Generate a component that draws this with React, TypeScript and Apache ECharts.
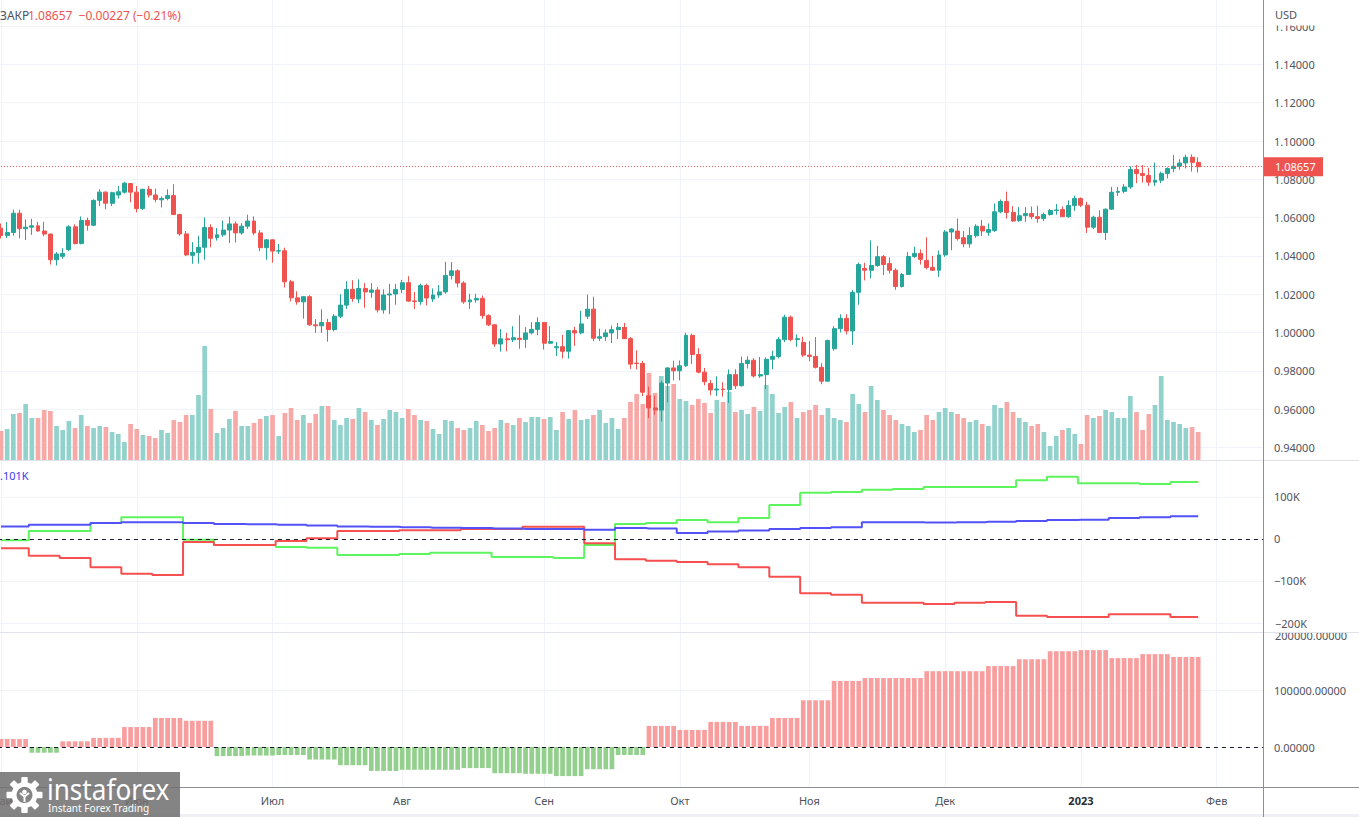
import React, { useEffect, useRef } from 'react';
import * as echarts from 'echarts';

const W = 1359;
const H = 817;
const FONT = "'Noto Sans', 'DejaVu Sans', sans-serif";
const UP = '#26a69a';
const DOWN = '#ef5350';
const VOL_UP = '#92d2cc';
const VOL_DOWN = '#f7a9a7';
const GRID_C = '#f0f3fa';
const LABEL_C = '#50535e';

// Daily EUR/USD candles [open, high, low, close]
const candlesMay = [
  [1.0545, 1.0569, 1.0491, 1.0506], [1.0506, 1.0577, 1.0493, 1.0522], [1.0522, 1.0642, 1.0505, 1.0623],
  [1.0623, 1.0641, 1.0492, 1.0542], [1.0542, 1.0591, 1.0483, 1.0550], [1.0550, 1.0594, 1.0510, 1.0557],
  [1.0557, 1.0578, 1.0527, 1.0530], [1.0530, 1.0578, 1.0503, 1.0514], [1.0514, 1.0516, 1.0355, 1.0380],
  [1.0380, 1.0420, 1.0350, 1.0410], [1.0398, 1.0440, 1.0385, 1.0412], [1.0433, 1.0560, 1.0425, 1.0552],
  [1.0552, 1.0565, 1.0460, 1.0465], [1.0465, 1.0606, 1.0460, 1.0585], [1.0585, 1.0600, 1.0532, 1.0560],
  [1.0560, 1.0695, 1.0555, 1.0690], [1.0690, 1.0748, 1.0660, 1.0733], [1.0733, 1.0737, 1.0643, 1.0675],
  [1.0675, 1.0735, 1.0660, 1.0730], [1.0718, 1.0765, 1.0700, 1.0735], [1.0733, 1.0787, 1.0725, 1.0780],
  [1.0778, 1.0780, 1.0680, 1.0733],
];
const candlesJun = [
  [1.0733, 1.0765, 1.0627, 1.0647], [1.0647, 1.0750, 1.0640, 1.0748], [1.0748, 1.0765, 1.0705, 1.0718],
  [1.0718, 1.0752, 1.0680, 1.0695], [1.0693, 1.0710, 1.0653, 1.0700], [1.0700, 1.0748, 1.0690, 1.0715],
  [1.0715, 1.0774, 1.0615, 1.0616], [1.0616, 1.0620, 1.0505, 1.0515], [1.0515, 1.0530, 1.0400, 1.0405],
  [1.0403, 1.0472, 1.0359, 1.0418], [1.0418, 1.0505, 1.0360, 1.0445], [1.0445, 1.0601, 1.0380, 1.0548],
  [1.0548, 1.0565, 1.0445, 1.0492], [1.0495, 1.0545, 1.0480, 1.0510], [1.0510, 1.0584, 1.0500, 1.0535],
  [1.0535, 1.0605, 1.0468, 1.0567], [1.0567, 1.0579, 1.0470, 1.0520], [1.0520, 1.0570, 1.0510, 1.0555],
  [1.0555, 1.0615, 1.0540, 1.0582], [1.0582, 1.0606, 1.0508, 1.0520], [1.0520, 1.0535, 1.0425, 1.0443],
  [1.0443, 1.0488, 1.0380, 1.0484],
];
const candlesJul = [
  [1.0484, 1.0486, 1.0365, 1.0425], [1.0425, 1.0462, 1.0410, 1.0427], [1.0427, 1.0443, 1.0235, 1.0265],
  [1.0265, 1.0275, 1.0162, 1.0181], [1.0181, 1.0215, 1.0145, 1.0160], [1.0160, 1.0186, 1.0072, 1.0187],
  [1.0187, 1.0195, 1.0035, 1.0040], [1.0040, 1.0070, 0.9998, 1.0035], [1.0035, 1.0121, 0.9998, 1.0052],
  [1.0052, 1.0071, 0.9952, 1.0015], [1.0015, 1.0097, 1.0006, 1.0085], [1.0085, 1.0200, 1.0075, 1.0143],
  [1.0143, 1.0268, 1.0123, 1.0225], [1.0225, 1.0273, 1.0160, 1.0178], [1.0175, 1.0278, 1.0153, 1.0230],
  [1.0230, 1.0258, 1.0129, 1.0212], [1.0210, 1.0258, 1.0181, 1.0222], [1.0222, 1.0237, 1.0105, 1.0118],
  [1.0118, 1.0225, 1.0098, 1.0196], [1.0196, 1.0254, 1.0096, 1.0201], [1.0201, 1.0254, 1.0145, 1.0225],
];
const candlesAug = [
  [1.0225, 1.0275, 1.0205, 1.0260], [1.0260, 1.0294, 1.0160, 1.0164], [1.0165, 1.0212, 1.0123, 1.0162],
  [1.0162, 1.0255, 1.0145, 1.0245], [1.0245, 1.0255, 1.0141, 1.0180], [1.0175, 1.0230, 1.0160, 1.0196],
  [1.0196, 1.0248, 1.0181, 1.0212], [1.0212, 1.0368, 1.0202, 1.0298], [1.0298, 1.0368, 1.0277, 1.0322],
  [1.0322, 1.0330, 1.0235, 1.0258], [1.0258, 1.0268, 1.0150, 1.0160], [1.0160, 1.0202, 1.0123, 1.0170],
  [1.0170, 1.0202, 1.0156, 1.0178], [1.0178, 1.0193, 1.0072, 1.0088], [1.0088, 1.0095, 1.0033, 1.0040],
  [1.0040, 1.0045, 0.9925, 0.9940], [0.9940, 1.0018, 0.9900, 0.9967], [0.9967, 0.9998, 0.9902, 0.9962],
  [0.9962, 1.0033, 0.9950, 0.9973], [0.9970, 1.0090, 0.9915, 0.9964], [0.9964, 1.0028, 0.9920, 0.9998],
  [0.9998, 1.0054, 0.9990, 1.0016], [1.0016, 1.0079, 0.9985, 1.0052],
];
const candlesSep = [
  [1.0052, 1.0055, 0.9911, 0.9944], [0.9944, 1.0033, 0.9940, 0.9953], [0.9920, 0.9950, 0.9877, 0.9926],
  [0.9926, 0.9988, 0.9865, 0.9902], [0.9902, 1.0012, 0.9864, 1.0010], [1.0010, 1.0030, 0.9930, 0.9998],
  [0.9998, 1.0113, 0.9990, 1.0045], [1.0085, 1.0198, 1.0070, 1.0122], [1.0122, 1.0187, 0.9955, 0.9970],
  [0.9970, 1.0020, 0.9955, 0.9978], [0.9978, 1.0017, 0.9955, 0.9998], [0.9998, 1.0036, 0.9945, 1.0015],
  [1.0015, 1.0050, 0.9966, 1.0027], [1.0027, 1.0050, 0.9966, 0.9968], [0.9968, 0.9976, 0.9810, 0.9835],
  [0.9840, 0.9907, 0.9807, 0.9838], [0.9838, 0.9851, 0.9668, 0.9688], [0.9670, 0.9718, 0.9553, 0.9606],
  [0.9606, 0.9670, 0.9570, 0.9595], [0.9595, 0.9748, 0.9535, 0.9736], [0.9736, 0.9818, 0.9635, 0.9815],
  [0.9815, 0.9853, 0.9750, 0.9800],
];
const candlesOct = [
  [0.9800, 0.9854, 0.9750, 0.9826], [0.9826, 0.9999, 0.9820, 0.9985], [0.9985, 0.9994, 0.9836, 0.9885],
  [0.9885, 0.9918, 0.9787, 0.9793], [0.9793, 0.9815, 0.9724, 0.9743], [0.9734, 0.9752, 0.9672, 0.9700],
  [0.9700, 0.9771, 0.9668, 0.9705], [0.9705, 0.9740, 0.9665, 0.9702], [0.9702, 0.9807, 0.9632, 0.9780],
  [0.9780, 0.9808, 0.9705, 0.9722], [0.9722, 0.9875, 0.9718, 0.9838], [0.9838, 0.9876, 0.9812, 0.9855],
  [0.9855, 0.9866, 0.9765, 0.9773], [0.9773, 0.9872, 0.9763, 0.9780], [0.9780, 0.9870, 0.9705, 0.9860],
  [0.9860, 0.9905, 0.9808, 0.9875], [0.9875, 0.9976, 0.9865, 0.9963], [0.9963, 1.0093, 0.9950, 1.0080],
  [1.0080, 1.0088, 0.9954, 0.9963], [0.9963, 0.9990, 0.9925, 0.9968], [0.9948, 0.9978, 0.9872, 0.9882],
];
const candlesNov = [
  [0.9882, 0.9955, 0.9850, 0.9875], [0.9875, 0.9976, 0.9812, 0.9818], [0.9818, 0.9840, 0.9730, 0.9746],
  [0.9746, 0.9963, 0.9746, 0.9958], [0.9915, 1.0033, 0.9905, 1.0020], [1.0020, 1.0095, 1.0000, 1.0074],
  [1.0074, 1.0095, 0.9990, 1.0008], [1.0008, 1.0222, 0.9935, 1.0210], [1.0210, 1.0365, 1.0145, 1.0355],
  [1.0334, 1.0364, 1.0272, 1.0325], [1.0325, 1.0481, 1.0282, 1.0350], [1.0350, 1.0452, 1.0343, 1.0396],
  [1.0396, 1.0405, 1.0300, 1.0355], [1.0360, 1.0392, 1.0308, 1.0325], [1.0325, 1.0335, 1.0223, 1.0240],
  [1.0240, 1.0310, 1.0235, 1.0303], [1.0303, 1.0420, 1.0300, 1.0397], [1.0397, 1.0448, 1.0390, 1.0413],
  [1.0413, 1.0434, 1.0355, 1.0382], [1.0376, 1.0497, 1.0330, 1.0340], [1.0340, 1.0400, 1.0323, 1.0325],
  [1.0325, 1.0428, 1.0290, 1.0405],
];
const candlesDec = [
  [1.0405, 1.0535, 1.0395, 1.0525], [1.0525, 1.0545, 1.0430, 1.0540], [1.0530, 1.0595, 1.0480, 1.0490],
  [1.0495, 1.0530, 1.0445, 1.0463], [1.0463, 1.0550, 1.0443, 1.0507], [1.0505, 1.0565, 1.0495, 1.0555],
  [1.0555, 1.0588, 1.0503, 1.0530], [1.0523, 1.0570, 1.0504, 1.0538], [1.0533, 1.0673, 1.0525, 1.0630],
  [1.0630, 1.0695, 1.0623, 1.0684], [1.0684, 1.0736, 1.0595, 1.0627], [1.0627, 1.0660, 1.0578, 1.0582],
  [1.0585, 1.0655, 1.0578, 1.0610], [1.0610, 1.0655, 1.0578, 1.0621], [1.0621, 1.0658, 1.0592, 1.0605],
  [1.0605, 1.0662, 1.0573, 1.0595], [1.0595, 1.0626, 1.0582, 1.0616], [1.0616, 1.0645, 1.0610, 1.0637],
  [1.0637, 1.0671, 1.0615, 1.0640], [1.0642, 1.0658, 1.0605, 1.0605], [1.0605, 1.0690, 1.0598, 1.0663],
  [1.0663, 1.0715, 1.0635, 1.0700],
];
const candlesJan = [
  [1.0700, 1.0705, 1.0655, 1.0665], [1.0665, 1.0683, 1.0520, 1.0550], [1.0550, 1.0610, 1.0540, 1.0602],
  [1.0602, 1.0638, 1.0520, 1.0522], [1.0522, 1.0647, 1.0483, 1.0644], [1.0644, 1.0760, 1.0640, 1.0732],
  [1.0732, 1.0760, 1.0713, 1.0737], [1.0737, 1.0775, 1.0727, 1.0760], [1.0760, 1.0868, 1.0750, 1.0851],
  [1.0851, 1.0875, 1.0780, 1.0830], [1.0830, 1.0875, 1.0783, 1.0820], [1.0820, 1.0860, 1.0766, 1.0785],
  [1.0785, 1.0887, 1.0766, 1.0795], [1.0795, 1.0840, 1.0780, 1.0830], [1.0830, 1.0863, 1.0805, 1.0856],
  [1.0856, 1.0927, 1.0837, 1.0868], [1.0868, 1.0905, 1.0850, 1.0885], [1.0885, 1.0928, 1.0857, 1.0915],
  [1.0915, 1.0930, 1.0840, 1.08884], [1.08884, 1.0915, 1.0835, 1.08657],
];
const candles = [
  ...candlesMay, ...candlesJun, ...candlesJul, ...candlesAug, ...candlesSep,
  ...candlesOct, ...candlesNov, ...candlesDec, ...candlesJan,
];

// Daily tick volume (thousands)
const volumes = [
  29, 31, 46, 47, 56, 42, 42, 50, 49, 34, 30, 39, 32, 45, 34, 32, 34, 33, 28, 26,
  18, 36, 31, 25, 24, 22, 30, 27, 40, 38, 45, 45, 65, 114, 51, 27, 32, 41, 49, 34,
  34, 37, 41, 44, 45, 24, 47, 52, 40, 45, 37, 46, 54, 54, 40, 35, 42, 41, 52, 48,
  40, 35, 41, 50, 48, 42, 51, 45, 40, 39, 31, 26, 40, 39, 32, 30, 32, 39, 35, 29,
  32, 40, 37, 35, 42, 38, 43, 43, 41, 43, 30, 48, 41, 50, 40, 41, 45, 50,
  37, 42, 31, 42, 58, 66, 56, 87, 67, 84, 74, 76, 61, 59, 55, 61, 57, 47, 60, 58,
  68, 48, 50, 46, 53, 49, 75, 66, 47, 53, 58, 42, 48, 50, 55, 45, 52, 42, 40, 38,
  66, 56, 48, 74, 60, 50, 45, 40, 36, 34, 28, 30, 45, 40, 48, 52, 48, 46, 42, 38,
  40, 36, 34, 55, 52, 58, 48, 42, 38, 34, 36, 28, 14, 24, 30, 32, 26, 16, 45, 42,
  44, 50, 48, 42, 42, 64, 48, 30, 46, 55, 84, 40, 38, 36, 32, 33, 28,
];

// Weekly COT positions (thousands of contracts), one value per week from 2 May 2022
const cotBlue = [30, 34, 34, 38, 40, 40, 38, 36, 35, 34, 32, 30, 29, 28, 27, 26, 25, 24, 24, 22,
  26, 25, 14, 18, 20, 24, 26, 28, 40, 40, 39, 40, 41, 43, 45, 46, 50, 52, 54];
const cotGreen = [-3, 19, 19, 38, 52, 52, -2, -14, -14, -19, -21, -38, -38, -36, -33, -33, -43, -43, -45, -14,
  36, 38, 45, 40, 50, 81, 110, 112, 117, 119, 124, 124, 124, 140, 148, 133, 133, 131, 136];
const cotRed = [-22, -40, -45, -67, -83, -86, -7, -14, -14, -5, 2, 19, 19, 21, 21, 24, 24, 29, 29, -10,
  -48, -52, -55, -60, -67, -90, -129, -133, -152, -152, -155, -152, -150, -183, -186, -186, -179, -179, -186];
const netHist = [14, -10, 10, 16, 35, 51, 46, -16, -15, -14, -22, -32, -42, -40, -40, -37, -46, -47, -51, -39,
  -14, 37, 30, 44, 37, 51, 82, 116, 121, 121, 133, 133, 142, 154, 168, 170, 156, 163, 158];

const priceTicks = [0.94, 0.96, 0.98, 1.0, 1.02, 1.04, 1.06, 1.08, 1.1, 1.12, 1.14, 1.16];
const cotLabelTicks = [-100000, 0, 100000];
const cotLineTicks = [-200000, -100000, 100000];
const histLabelTicks = [0, 100000];
const histLineTicks = [100000];
const monthNames = ['Янв', 'Фев', 'Мар', 'Апр', 'Май', 'Июн', 'Июл', 'Авг', 'Сен', 'Окт', 'Ноя', 'Дек'];

const FUTURE_DAYS = 10;

function weekdays(startISO: string, count: number): string[] {
  const out: string[] = [];
  const d = new Date(startISO + 'T00:00:00Z');
  while (out.length < count) {
    const wd = d.getUTCDay();
    if (wd !== 0 && wd !== 6) out.push(d.toISOString().slice(0, 10));
    d.setUTCDate(d.getUTCDate() + 1);
  }
  return out;
}

const dates = weekdays('2022-05-02', candles.length + FUTURE_DAYS);
const monthStart = dates.map((d, i) => i === 0 || d.slice(5, 7) !== dates[i - 1].slice(5, 7));

const lastClose = candles[candles.length - 1][3];
const prevClose = candles[candles.length - 2][3];

// layout of the panes
const RIGHT_AXIS_X = 1263;
const BAND = 6.171;
const GRID_LEFT = 1 - BAND / 2;
const GRID_RIGHT = W - RIGHT_AXIS_X;
const P_MAX = 1 + 332.5 / 1915;
const P_MIN = 1 - 127.5 / 1915;

function weeklyToDaily(w: number[]) {
  return candles.map((_, i) => w[Math.floor(i / 5)] * 1000);
}

function buildOption(): any {
  const xAxes = [0, 1, 2].map((g) => ({
    type: 'category',
    gridIndex: g,
    data: dates,
    boundaryGap: true,
    axisLine: { show: false },
    axisTick: { show: false },
    axisLabel: g === 2
      ? {
          show: true,
          interval: (i: number) => monthStart[i],
          margin: 9,
          color: LABEL_C,
          fontSize: 11,
          fontFamily: FONT,
          formatter: (v: string) => {
            const m = +v.slice(5, 7);
            return m === 1 ? '{y|' + v.slice(0, 4) + '}' : monthNames[m - 1];
          },
          rich: { y: { fontWeight: 'bold', color: '#2a2e39', fontSize: 11, fontFamily: FONT } },
        }
      : { show: false },
    splitLine: {
      show: true,
      interval: (i: number) => monthStart[i],
      alignWithLabel: true,
      lineStyle: { color: GRID_C, width: 1 },
    },
  }));

  const labelStyle = { color: LABEL_C, fontSize: 11, fontFamily: FONT, margin: 11 };

  const volData = candles.map((c, i) => ({
    value: volumes[i],
    itemStyle: { color: c[3] >= c[0] ? VOL_UP : VOL_DOWN },
  }));
  const histDaily = weeklyToDaily(netHist);
  const histData = histDaily.map((v) => ({
    value: v,
    itemStyle: { color: v >= 0 ? '#f89e9e' : '#93cf8d' },
  }));

  const zeroLine = (id: string) => ({
    silent: true,
    symbol: ['none', 'none'],
    precision: 5,
    label: { show: false },
    lineStyle: { color: '#131722', type: [4, 4], width: 1 },
    data: [{ yAxis: 0, name: id }],
  });

  return {
    animation: false,
    backgroundColor: '#ffffff',
    textStyle: { fontFamily: FONT },
    grid: [
      { left: GRID_LEFT, right: GRID_RIGHT, top: 0, height: 460, outerBoundsMode: 'none' },
      { left: GRID_LEFT, right: GRID_RIGHT, top: 461, height: 171, outerBoundsMode: 'none' },
      { left: GRID_LEFT, right: GRID_RIGHT, top: 633, height: 153, outerBoundsMode: 'none' },
    ],
    xAxis: xAxes,
    yAxis: [
      {
        type: 'value', gridIndex: 0, position: 'right', min: P_MIN, max: P_MAX,
        axisLine: { show: false },
        axisTick: { show: false, customValues: priceTicks },
        axisLabel: { ...labelStyle, customValues: priceTicks, formatter: (v: number) => v.toFixed(5) },
        splitLine: { show: true, lineStyle: { color: GRID_C } },
      },
      { type: 'value', gridIndex: 0, min: 0, max: 460, show: false, splitLine: { show: false } },
      {
        type: 'value', gridIndex: 1, position: 'right', min: -221429, max: 185714,
        axisLine: { show: false },
        axisTick: { show: false, customValues: cotLineTicks },
        axisLabel: {
          ...labelStyle, customValues: cotLabelTicks,
          formatter: (v: number) => (v === 0 ? '0' : (v < 0 ? '\u2212' : '') + Math.abs(v / 1000) + 'K'),
        },
        splitLine: { show: true, lineStyle: { color: GRID_C } },
      },
      {
        type: 'value', gridIndex: 2, position: 'right', min: -68421, max: 200000,
        axisLine: { show: false },
        axisTick: { show: false, customValues: histLineTicks },
        axisLabel: { ...labelStyle, customValues: histLabelTicks, formatter: (v: number) => v.toFixed(5) },
        splitLine: { show: true, lineStyle: { color: GRID_C } },
      },
    ],
    series: [
      {
        type: 'bar', name: 'volume', xAxisIndex: 0, yAxisIndex: 1, data: volData,
        barWidth: '76%', silent: true, z: 1,
      },
      {
        type: 'candlestick', name: 'EURUSD', xAxisIndex: 0, yAxisIndex: 0,
        data: candles.map((c) => [c[0], c[3], c[2], c[1]]),
        barWidth: '72%', silent: true, z: 3,
        itemStyle: { color: UP, color0: DOWN, borderColor: UP, borderColor0: DOWN, borderWidth: 1 },
        markLine: {
          silent: true, symbol: ['none', 'none'], label: { show: false }, precision: 5,
          lineStyle: { color: DOWN, type: [1, 2], width: 1 },
          data: [{ yAxis: lastClose }],
        },
      },
      {
        type: 'line', name: 'green', xAxisIndex: 1, yAxisIndex: 2, data: weeklyToDaily(cotGreen),
        step: 'middle', showSymbol: false, silent: true, z: 3,
        lineStyle: { color: '#5df55d', width: 2 },
      },
      {
        type: 'line', name: 'red', xAxisIndex: 1, yAxisIndex: 2, data: weeklyToDaily(cotRed),
        step: 'middle', showSymbol: false, silent: true, z: 3,
        lineStyle: { color: '#f5504f', width: 2 },
      },
      {
        type: 'line', name: 'blue', xAxisIndex: 1, yAxisIndex: 2, data: weeklyToDaily(cotBlue),
        step: 'middle', showSymbol: false, silent: true, z: 3,
        lineStyle: { color: '#5252f7', width: 2 },
        markLine: zeroLine('cot0'),
      },
      {
        type: 'bar', name: 'net', xAxisIndex: 2, yAxisIndex: 3, data: histData,
        barWidth: '76%', silent: true, z: 2,
        markLine: zeroLine('net0'),
      },
    ],
  };
}

function buildGraphics(yLast: number): any[] {
  const change = lastClose - prevClose;
  const sign = change < 0 ? '\u2212' : '+';
  const pct = (Math.abs(change) / prevClose) * 100;
  const legendText = `${lastClose.toFixed(5)}  ${sign}${Math.abs(change).toFixed(5)} (${sign}${pct.toFixed(2)}%)`;
  const txt = (text: string, x: number, y: number, fill: string, fontSize = 11, z = 101) => ({
    type: 'text', x, y, z, silent: true,
    style: { text, fill, fontSize, fontFamily: FONT, verticalAlign: 'middle', align: 'left' },
  });
  const box = (x: number, y: number, width: number, height: number, fill: string, z: number) => ({
    type: 'rect', z, silent: true, shape: { x, y, width, height }, style: { fill },
  });
  const line = (x1: number, y1: number, x2: number, y2: number, stroke: string) => ({
    type: 'line', z: 110, silent: true, shape: { x1, y1, x2, y2 }, style: { stroke, lineWidth: 1 },
  });
  const teeth = [0, 1, 2, 3, 4, 5, 6, 7].map((k) => ({
    type: 'rect', z: 201, rotation: (k * Math.PI) / 4, shape: { x: -3.2, y: -18, width: 6.4, height: 7, r: 1 },
    style: { fill: '#ffffff' },
  }));
  return [
    // price pane legend
    txt('ЗАКР', 0, 15, '#50535e', 12),
    txt(legendText, 28, 15, DOWN, 12),
    txt('.101K', 0, 475, '#3a3af0', 11),
    // top of price scale, partly covering the highest label
    box(1264, 0, 95, 25.5, '#ffffff', 102),
    txt('USD', 1275, 14, LABEL_C, 11, 103),
    // last price badge
    box(1264, yLast - 9.5, 59, 19, DOWN, 102),
    txt(lastClose.toFixed(5), 1275, yLast, '#ffffff', 11, 103),
    // clipped top label of lowest pane
    txt('200000.00000', 1275, 635, LABEL_C, 11, 100),
    box(1264, 616, 95, 17, '#ffffff', 102),
    txt('\u2212200K', 1275, 623, LABEL_C, 11, 103),
    // separators
    line(0, 460.5, W, 460.5, '#e0e3eb'),
    line(0, 632.5, W, 632.5, '#e0e3eb'),
    line(0, 787.5, W, 787.5, '#8c8f98'),
    line(RIGHT_AXIS_X + 0.5, 0, RIGHT_AXIS_X + 0.5, H, '#8c8f98'),
    box(0, 814, W, 3, '#eef0f4', 105),
    // watermark
    {
      type: 'group', silent: true,
      children: [
        box(0, 772, 180, 45, 'rgba(112,112,112,0.86)', 200),
        {
          type: 'group', x: 24.5, y: 795,
          children: [
            { type: 'ring', z: 201, shape: { cx: 0, cy: 0, r: 13, r0: 8 }, style: { fill: '#ffffff' } },
            ...teeth,
            { type: 'circle', z: 201, shape: { cx: 0, cy: -3, r: 2.3 }, style: { fill: '#ffffff' } },
            { type: 'polyline', z: 201, shape: { points: [[-4.5, -2], [0, 1.5], [4.5, -2]] }, style: { stroke: '#ffffff', lineWidth: 2, fill: null } },
            { type: 'line', z: 201, shape: { x1: 0, y1: 1, x2: 0, y2: 7 }, style: { stroke: '#ffffff', lineWidth: 2 } },
          ],
        },
        {
          type: 'text', z: 201, x: 47, y: 789, scaleX: 0.9,
          style: { text: 'instaforex', fill: '#ffffff', fontSize: 29, fontFamily: FONT, verticalAlign: 'middle' },
        },
        {
          type: 'text', z: 201, x: 48, y: 808, scaleX: 0.92,
          style: { text: 'Instant Forex Trading', fill: '#ffffff', fontSize: 11, fontFamily: FONT, verticalAlign: 'middle' },
        },
      ],
    },
  ];
}

export default function App() {
  const ref = useRef<HTMLDivElement>(null);
  useEffect(() => {
    if (!ref.current) return;
    const chart = echarts.init(ref.current, null, { renderer: 'svg' });
    chart.setOption(buildOption());
    const yLast = chart.convertToPixel({ yAxisIndex: 0 } as any, lastClose) as unknown as number;
    chart.setOption({ graphic: buildGraphics(typeof yLast === 'number' ? yLast : 167) });
    return () => chart.dispose();
  }, []);
  return (
    <div
      ref={ref}
      style={{ position: 'absolute', left: 0, top: 0, width: W, height: H, background: '#ffffff' }}
    />
  );
}
